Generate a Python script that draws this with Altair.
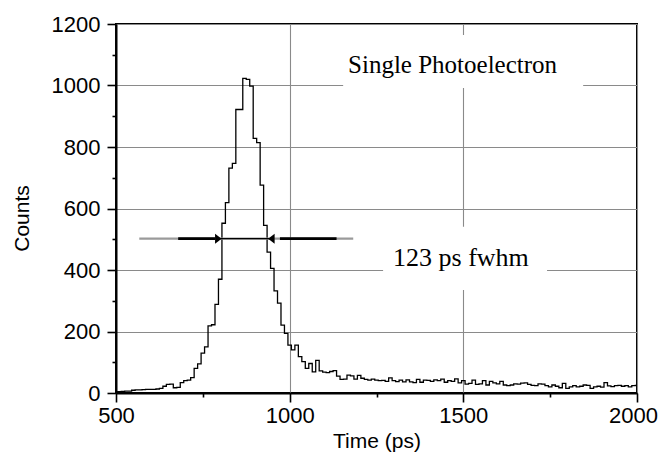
import altair as alt
import pandas as pd

# ---- data ----
bin_start = 500
bin_width = 10
counts = [
    3, 4, 5, 6, 6, 9, 10, 10, 11, 12,            # 500-590
    12, 12, 13, 15, 22, 28, 29, 17, 18, 34,      # 600-690
    40, 42, 50, 80, 95, 130, 150, 218, 222, 288, # 700-790
    370, 552, 619, 731, 747, 922, 922, 1023, 1020, 998,  # 800-890
    828, 814, 676, 545, 458, 405, 332, 292, 221, 194,    # 900-990
    156, 140, 156, 118, 102, 80, 96, 69, 106, 72,        # 1000-1090
    68, 66, 70, 73, 55, 44, 45, 58, 56, 45,              # 1100-1190
    57, 48, 44, 42, 45, 42, 40, 41, 38, 49,              # 1200-1290
    40, 37, 42, 36, 43, 36, 34, 44, 35, 42,              # 1300-1390
    41, 38, 43, 40, 45, 35, 40, 38, 46, 33,              # 1400-1490
    40, 29, 31, 42, 28, 30, 40, 26, 38, 33,              # 1500-1590
    30, 38, 26, 24, 26, 30, 29, 32, 33, 28,              # 1600-1690
    25, 24, 30, 29, 24, 20, 26, 22, 17, 31,              # 1700-1790
    15, 20, 24, 20, 22, 26, 25, 15, 20, 22,              # 1800-1890
    19, 34, 23, 21, 24, 25, 22, 24, 20, 24,              # 1900-1990
    25,                                                  # 2000
]
times = [bin_start + bin_width * i for i in range(len(counts))]

x_ticks = [500, 750, 1000, 1250, 1500, 1750, 2000]
y_ticks = [0, 100, 200, 300, 400, 500, 600, 700, 800, 900, 1000, 1100, 1200]

# annotation boxes / labels
box_t1 = [1154, 1269]
box_t2 = [1845, 1741]
box_c1 = [992, 335]
box_c2 = [1164, 541]
label_text = ["Single Photoelectron", "123 ps fwhm"]
label_t = [1469, 1493]
label_c = [1040, 413]
label_size = [25, 26]

# fwhm arrow
arrow_level = 502
seg_t1 = [567, 679, 972, 790]
seg_t2 = [1183, 785, 1135, 945]
seg_col = ["#9a9a9a", "black", "black", "black"]
seg_w = [2.2, 2.6, 2.6, 1.2]
head_t = [804, 938]
head_dir = ["right", "left"]

df = pd.DataFrame({"time": times, "counts": counts})
boxes = pd.DataFrame({"time": box_t1, "time2": box_t2, "counts": box_c1, "counts2": box_c2})
labels = pd.DataFrame({"time": label_t, "counts": label_c, "text": label_text, "size": label_size})
segs = pd.DataFrame({"time": seg_t1, "time2": seg_t2, "counts": [arrow_level] * 4,
                     "col": seg_col, "w": seg_w})
heads = pd.DataFrame({"time": head_t, "counts": [arrow_level] * 2, "dir": head_dir})

FONT = "Liberation Sans"

x_axis = alt.Axis(
    title="Time (ps)", values=x_ticks, format="d",
    labelExpr="datum.value % 500 === 0 ? datum.label : ''",
    tickSize={"condition": {"test": "datum.value % 500 === 0", "value": 9}, "value": 4},
    gridOpacity={"condition": {"test": "datum.value % 500 === 0", "value": 1}, "value": 0},
    labelOffset={"condition": {"test": "datum.value === 2000", "value": -4}, "value": 0},
    labelFlush=False, labelOverlap=False, labelPadding=3,
    titleY=48, titleBaseline="middle",
)
y_axis = alt.Axis(
    title="Counts", values=y_ticks, format="d",
    labelExpr="datum.value % 200 === 0 ? datum.label : ''",
    tickSize={"condition": {"test": "datum.value % 200 === 0", "value": 9}, "value": 4},
    gridOpacity={"condition": {"test": "datum.value % 200 === 0", "value": 1}, "value": 0},
    labelOverlap=False, labelPadding=7,
    titleX=-94, titleY=194, titleBaseline="middle", titleAlign="center",
)
xs = alt.Scale(domain=[500, 2000], nice=False, zero=False)
ys = alt.Scale(domain=[0, 1200], nice=False)

X = alt.X("time:Q", scale=xs, axis=x_axis)
Y = alt.Y("counts:Q", scale=ys, axis=y_axis)

hist = alt.Chart(df).mark_line(interpolate="step", color="black", strokeWidth=1.3).encode(x=X, y=Y)

white = alt.Chart(boxes).mark_rect(color="white", opacity=1).encode(
    x=X, x2="time2:Q", y=Y, y2="counts2:Q")

txt = alt.Chart(labels).mark_text(font="Liberation Serif", align="center",
                                  baseline="alphabetic", color="black").encode(
    x=X, y=Y, text="text:N", size=alt.Size("size:Q", scale=None, legend=None))

rules = alt.Chart(segs).mark_rule().encode(
    x=X, x2="time2:Q", y=Y,
    color=alt.Color("col:N", scale=None, legend=None),
    strokeWidth=alt.StrokeWidth("w:Q", scale=None, legend=None))

head_r = alt.Chart(heads[heads["dir"] == "right"]).mark_point(
    shape="M -1.3 -1 L 0 0 L -1.3 1 Z", filled=True, color="black", size=100,
    opacity=1, strokeWidth=0).encode(x=X, y=Y)
head_l = alt.Chart(heads[heads["dir"] == "left"]).mark_point(
    shape="M 1.3 -1 L 0 0 L 1.3 1 Z", filled=True, color="black", size=100,
    opacity=1, strokeWidth=0).encode(x=X, y=Y)

chart = alt.layer(white, hist, rules, head_r, head_l, txt).properties(
    width=521, height=369,
    autosize=alt.AutoSizeParams(type="none"),
    padding={"left": 108, "top": 16, "right": 21, "bottom": 60},
    background="white",
).configure_view(stroke="black", strokeWidth=2).configure_axis(
    domainColor="black", domainWidth=2, tickColor="black", tickWidth=1.6,
    gridColor="#8a8a8a", gridWidth=1.1,
    labelFont=FONT, labelFontSize=22, labelColor="black",
    titleFont=FONT, titleFontSize=21, titleColor="black", titleFontWeight="normal",
)

chart.save("out.html", embed_options={"renderer": "svg", "actions": False})
